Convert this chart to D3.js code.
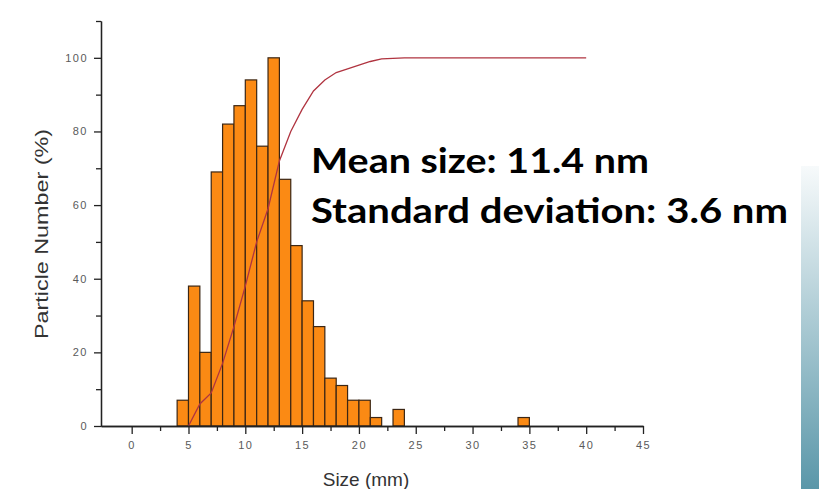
<!DOCTYPE html>
<html>
<head>
<meta charset="utf-8">
<script src="https://cdn.jsdelivr.net/npm/d3@7"></script>
<style>
  body { margin: 0; background: #fff; }
  text { font-family: "Liberation Sans", Arial, sans-serif; }
</style>
</head>
<body>
<div id="app"></div>
<script>
// histogram bins (left edge, width 1) and particle counts (%)
const binStarts = [4, 5, 6, 7, 8, 9, 10, 11, 12, 13, 14, 15, 16, 17, 18, 19, 20, 21, 23, 34]
const binValues = [7, 38, 20, 69, 82, 87, 94, 76, 100, 67, 49, 34, 27, 13, 11, 7, 7, 2.3, 4.5, 2.3]

// cumulative curve
const cumX = [5, 6, 7, 8, 9, 10, 11, 12, 13, 14, 15, 16, 17, 18, 19, 20, 21, 22, 24, 35, 40]
const cumY = [0, 6, 9, 17, 27, 38, 50, 59, 72, 80, 86, 91, 94, 96, 97, 98, 99, 99.7, 100, 100, 100]

const xTicks = [0, 5, 10, 15, 20, 25, 30, 35, 40, 45]
const xMinor = [2.5, 7.5, 12.5, 17.5, 22.5, 27.5, 32.5, 37.5, 42.5]
const yTicks = [0, 20, 40, 60, 80, 100]
const yMinor = [10, 30, 50, 70, 90, 110]

const notes = ['Mean size: 11.4 nm', 'Standard deviation: 3.6 nm']

const svg = d3.select('#app')
  .append('svg')
    .attr('width', 819)
    .attr('height', 489)

// teal strip on the right edge
const grad = svg.append('defs').append('linearGradient')
  .attr('id', 'strip').attr('x1', 0).attr('y1', 0).attr('x2', 0).attr('y2', 1)
grad.append('stop').attr('offset', 0).attr('stop-color', '#f7fafb')
grad.append('stop').attr('offset', 1).attr('stop-color', '#5a97a9')
svg.append('rect')
  .attr('x', 801).attr('y', 166).attr('width', 18).attr('height', 323)
  .attr('fill', 'url(#strip)')

// scales
const xScale = d3.scaleLinear().domain([-2.7, 45]).range([101, 643])
const yScale = d3.scaleLinear().domain([0, 110]).range([426, 21])

// bars
svg.selectAll('.bar')
  .data(binStarts.map((s, i) => ({ x: s, v: binValues[i] })))
  .join('rect')
    .attr('class', 'bar')
    .attr('x', d => xScale(d.x))
    .attr('y', d => yScale(d.v))
    .attr('width', d => xScale(d.x + 1) - xScale(d.x))
    .attr('height', d => yScale(0) - yScale(d.v))
    .attr('fill', '#fb8a14')
    .attr('stroke', '#3b2614')
    .attr('stroke-width', 1.2)

// cumulative line
const line = d3.line().x(d => xScale(d[0])).y(d => yScale(d[1]))
svg.append('path')
  .datum(cumX.map((x, i) => [x, cumY[i]]))
  .attr('d', line)
  .attr('fill', 'none')
  .attr('stroke', '#b03440')
  .attr('stroke-width', 1.3)

// axes
const styleAxis = g => {
  g.select('.domain').attr('stroke', '#222').attr('stroke-width', 1.3)
  g.selectAll('.tick line').attr('stroke', '#222').attr('stroke-width', 1.3)
  g.selectAll('.tick text')
    .attr('fill', '#5a5a5a')
    .style('font-size', '11px')
    .style('letter-spacing', '1.5px')
}

svg.append('g')
  .attr('transform', `translate(0, ${yScale(0)})`)
  .call(d3.axisBottom(xScale).tickValues(xMinor).tickSize(5).tickFormat('').tickSizeOuter(0))
  .call(styleAxis)
svg.append('g')
  .attr('transform', `translate(0, ${yScale(0)})`)
  .call(d3.axisBottom(xScale).tickValues(xTicks).tickSize(8).tickPadding(7).tickSizeOuter(0))
  .call(styleAxis)

svg.append('g')
  .attr('transform', `translate(${xScale(-2.7)}, 0)`)
  .call(d3.axisLeft(yScale).tickValues(yMinor).tickSize(5).tickFormat('').tickSizeOuter(0))
  .call(styleAxis)
svg.append('g')
  .attr('transform', `translate(${xScale(-2.7)}, 0)`)
  .call(d3.axisLeft(yScale).tickValues(yTicks).tickSize(7).tickPadding(6).tickSizeOuter(0))
  .call(styleAxis)

// axis titles
svg.append('text')
  .attr('x', 366).attr('y', 486)
  .attr('text-anchor', 'middle')
  .attr('fill', '#333')
  .style('font-size', '19px')
  .text('Size (mm)')

svg.append('text')
  .attr('transform', 'translate(48, 234) rotate(-90)')
  .attr('text-anchor', 'middle')
  .attr('fill', '#333')
  .attr('textLength', 210)
  .attr('lengthAdjust', 'spacingAndGlyphs')
  .style('font-size', '18px')
  .text('Particle Number (%)')

// annotation
svg.selectAll('.note')
  .data(notes)
  .join('text')
    .attr('class', 'note')
    .attr('x', 311)
    .attr('y', (d, i) => 173 + i * 50)
    .attr('textLength', (d, i) => [338, 477][i])
    .attr('lengthAdjust', 'spacingAndGlyphs')
    .attr('fill', '#000')
    .style('font-family', 'Lato, "Open Sans", sans-serif')
    .style('font-weight', 'bold')
    .style('font-size', '35px')
    .text(d => d)
</script>
</body>
</html>
